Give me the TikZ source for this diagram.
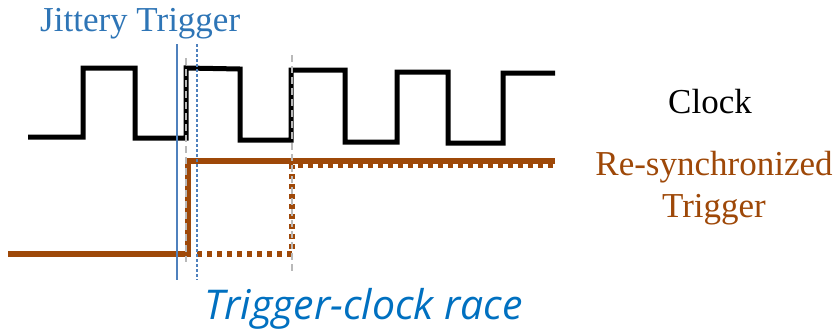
\documentclass[tikz,border=0pt]{standalone}
\usepackage{fontspec}
\setmainfont{Liberation Serif}
\newfontfamily\racefont{Open Sans}
\definecolor{syncbrown}{RGB}{158,72,8}
\definecolor{jitblue}{RGB}{46,117,182}
\definecolor{edgeblue}{RGB}{79,129,189}
\definecolor{raceblue}{RGB}{0,112,192}
\tikzset{
  clk/.style={line width=5pt, black, line join=miter},
  sync/.style={line width=5.5pt, syncbrown},
  syncdot/.style={line width=5.5pt, syncbrown, dash pattern=on 5pt off 5pt},
  marker/.style={line width=1.6pt, gray!55, dash pattern=on 7pt off 4pt},
  label/.style={inner sep=0pt, font=\fontsize{35}{42}\selectfont}
}
\begin{document}
\begin{tikzpicture}[x=1pt, y=-1pt]
        \useasboundingbox (0,0) rectangle (838,330);
        % Clock waveform
        \draw[clk] (28,137) -- (83,137) -- (83,68) -- (135,68) -- (135,138)
            -- (186,138) -- (186,68) -- (240,69) -- (240,140) -- (291,140)
            -- (291,70) -- (345,70) -- (345,142) -- (397,142) -- (397,72)
            -- (448,72) -- (448,143) -- (503,143) -- (503,73) -- (555,73);
        % Re-synchronized trigger, late case dotted
        \draw[syncdot] (197,254) -- (292,254) -- (292,165) -- (555,165);
        \draw[sync] (8,254) -- (188,254) -- (188,161) -- (555,161);
        % Clock edges sampling the trigger
        \draw[marker] (186,58) -- (186,262);
        \draw[marker] (292,55) -- (292,274);
        % Trigger arrival and its jitter
        \draw[line width=2.4pt, edgeblue] (177,44) -- (177,280);
        \draw[line width=2.6pt, edgeblue, dash pattern=on 2.5pt off 2.5pt] (197,44) -- (197,280);
        % Labels
        \node[label, jitblue, anchor=base west] (jitter) at (40,31) {Jittery Trigger};
        \node[label, anchor=base] (clock) at (710,113) {Clock};
        \node[label, syncbrown, anchor=base, align=center] (resync) at (714,217) {Re-synchronized\\Trigger};
        \node[inner sep=0pt, raceblue, anchor=base west, font=\fontsize{41}{48}\racefont\itshape] (race) at (204,319) {Trigger-clock race};
    \end{tikzpicture}
\end{document}
